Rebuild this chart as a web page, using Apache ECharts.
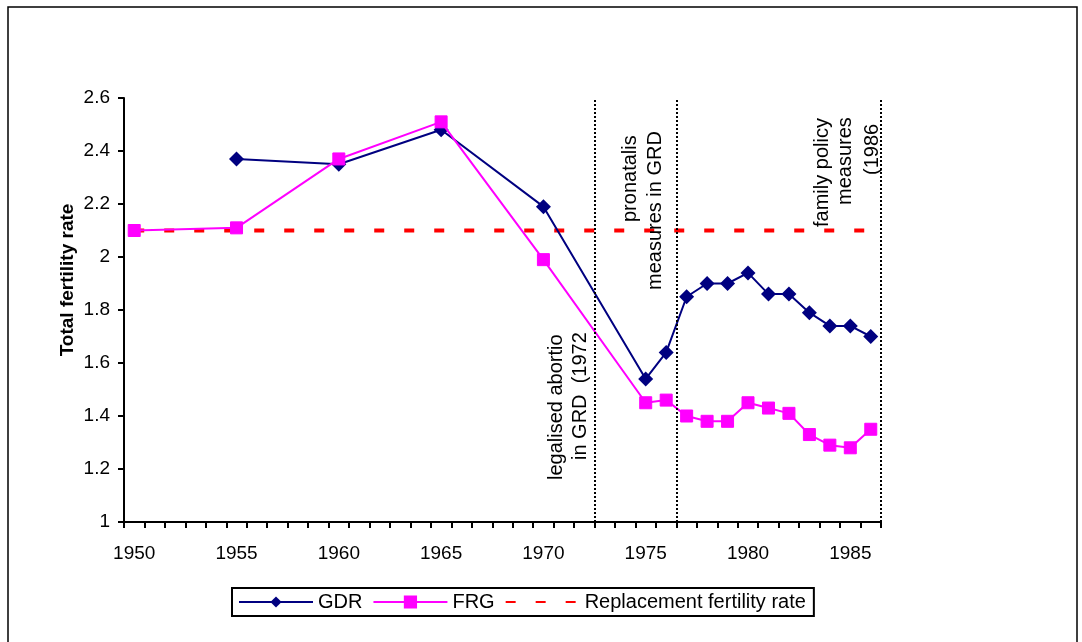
<!DOCTYPE html>
<html>
<head>
<meta charset="utf-8">
<script src="https://cdn.jsdelivr.net/npm/echarts@6/dist/echarts.min.js"></script>
<style>
html,body{margin:0;padding:0;background:#fff;}
#chart{width:1082px;height:642px;}
</style>
</head>
<body>
<div id="chart"></div>
<script>
// ---- data ----
const years = [];
for (let y = 1950; y <= 1986; y++) years.push(String(y));
const yTicks = [1, 1.2, 1.4, 1.6, 1.8, 2, 2.2, 2.4, 2.6];

const gdrYears = [1955, 1960, 1965, 1970, 1975, 1976, 1977, 1978, 1979, 1980, 1981, 1982, 1983, 1984, 1985, 1986];
const gdrValues = [2.37, 2.35, 2.48, 2.19, 1.54, 1.64, 1.85, 1.90, 1.90, 1.94, 1.86, 1.86, 1.79, 1.74, 1.74, 1.70];

const frgYears = [1950, 1955, 1960, 1965, 1970, 1975, 1976, 1977, 1978, 1979, 1980, 1981, 1982, 1983, 1984, 1985, 1986];
const frgValues = [2.10, 2.11, 2.37, 2.51, 1.99, 1.45, 1.46, 1.40, 1.38, 1.38, 1.45, 1.43, 1.41, 1.33, 1.29, 1.28, 1.35];

const replacementYears = [1950, 1986];
const replacementValue = 2.1;

const policyBoundaries = [1972.5, 1976.5, 1986.5];

// ---- build ----
function toSeries(ys, vs) {
  const m = {};
  ys.forEach((y, i) => { m[y] = vs[i]; });
  return years.map(y => (m[y] !== undefined ? m[y] : null));
}
const gdrData = toSeries(gdrYears, gdrValues);
const frgData = toSeries(frgYears, frgValues);
const replData = years.map(y => (+y >= replacementYears[0] && +y <= replacementYears[1]) ? replacementValue : null);

const FONT = 'Liberation Sans, Arial, sans-serif';
const chart = echarts.init(document.getElementById('chart'), null, {renderer: 'canvas'});

function annot(text, x, y) {
  return {
    type: 'text', x: x, y: y, rotation: Math.PI / 2, z: 100,
    style: {text: text, x: 0, y: 0, align: 'left', verticalAlign: 'middle',
            font: '20px ' + FONT, fill: '#000'}
  };
}

chart.setOption({
  animation: false,
  backgroundColor: '#fff',
  grid: {left: 124, right: 201, top: 98, bottom: 120, containLabel: false},
  xAxis: [{
    type: 'category',
    data: years,
    boundaryGap: true,
    axisLine: {lineStyle: {color: '#000', width: 2}},
    axisTick: {show: true, interval: 0, inside: false, length: 6, lineStyle: {color: '#000', width: 2}},
    axisLabel: {interval: 4, margin: 22, color: '#000', fontSize: 19, fontFamily: FONT},
    splitLine: {show: false}
  }, {
    type: 'value',
    min: 1949.5, max: 1986.5,
    show: false,
    splitLine: {show: false}
  }],
  yAxis: {
    type: 'value',
    min: yTicks[0], max: yTicks[yTicks.length - 1], interval: 0.2,
    axisLine: {show: true, lineStyle: {color: '#000', width: 2}},
    axisTick: {show: true, length: 6, lineStyle: {color: '#000', width: 2}},
    axisLabel: {margin: 14, color: '#000', fontSize: 19, fontFamily: FONT,
      formatter: v => String(Math.round(v * 10) / 10)},
    splitLine: {show: false}
  },
  legend: {
    left: 232, top: 588,
    orient: 'horizontal',
    itemWidth: 74, itemHeight: 14, itemGap: 10,
    padding: [4, 8, 4, 6],
    borderColor: '#000', borderWidth: 2,
    textStyle: {color: '#000', fontSize: 20, fontFamily: FONT},
    data: ['GDR', 'FRG', {name: 'Replacement fertility rate', itemStyle: {opacity: 0}}]
  },
  graphic: [
    {type: 'rect', shape: {x: 8, y: 7, width: 1069, height: 700},
     style: {fill: 'none', stroke: '#000', lineWidth: 1.5}, z: -10, silent: true},
    {type: 'text', x: 68, y: 280, rotation: Math.PI / 2,
     style: {text: 'Total fertility rate', x: 0, y: 0, align: 'center', verticalAlign: 'middle',
             font: 'bold 19px ' + FONT, fill: '#000'}},
    annot('legalised abortio', 556, 480),
    annot('in GRD  (1972', 580, 460),
    annot('pronatalis', 630, 222),
    annot('measures in GRD', 655, 290),
    annot('family policy', 822, 227),
    annot('measures', 845, 205),
    annot('(1986', 872, 175)
  ],
  series: [
    {
      name: 'Replacement fertility rate', type: 'line', data: replData,
      symbol: 'none', connectNulls: true, z: 1,
      lineStyle: {color: '#ff0000', width: 4, type: [10, 20]},
      itemStyle: {color: '#ff0000'}
    },
    {
      name: 'GDR', type: 'line', data: gdrData, connectNulls: true,
      symbol: 'diamond', symbolSize: 15, showAllSymbol: true, z: 3,
      lineStyle: {color: '#000080', width: 2},
      itemStyle: {color: '#000080'}
    },
    {
      name: 'FRG', type: 'line', data: frgData, connectNulls: true,
      symbol: 'rect', symbolSize: 12, showAllSymbol: true, z: 4,
      lineStyle: {color: '#ff00ff', width: 2},
      itemStyle: {color: '#ff00ff', borderColor: '#ff00ff', borderWidth: 1}
    },
    {
      name: 'boundaries', type: 'line', xAxisIndex: 1, data: [], z: 5,
      markLine: {
        silent: true, symbol: ['none', 'none'],
        label: {show: false},
        lineStyle: {color: '#000', width: 2, type: [2, 2]},
        data: policyBoundaries.map(v => ({xAxis: v}))
      }
    }
  ]
});
</script>
</body>
</html>
